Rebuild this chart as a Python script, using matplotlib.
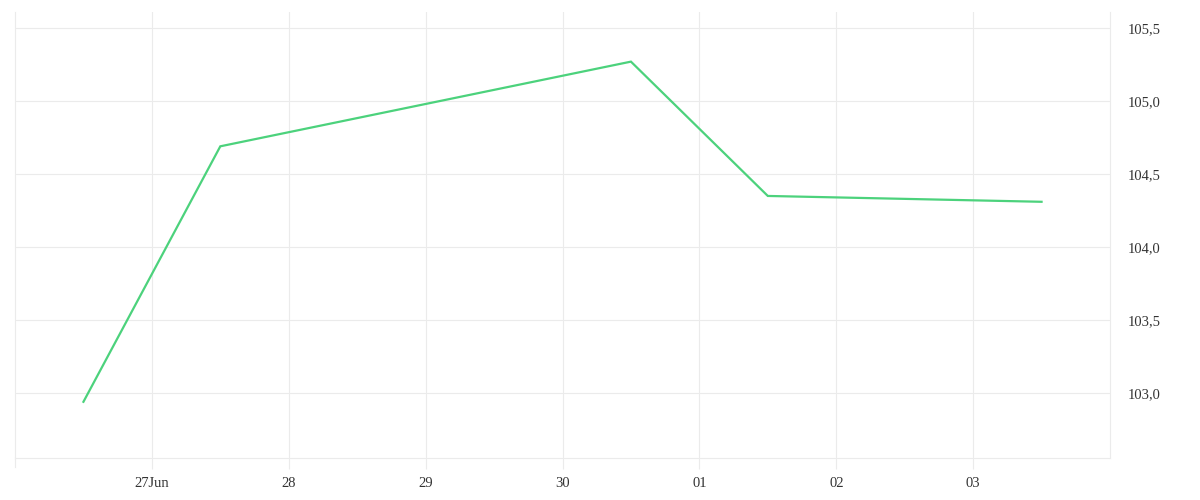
import numpy as np
import pandas as pd
import matplotlib
matplotlib.use("Agg")
import matplotlib.pyplot as plt
import matplotlib.dates as mdates
from matplotlib.ticker import FuncFormatter

# data
dates = pd.to_datetime(["2023-06-26 12:00", "2023-06-27 12:00", "2023-06-30 12:00",
                        "2023-07-01 12:00", "2023-07-03 12:00"])
values = [102.94, 104.69, 105.27, 104.35, 104.31]

tick_dates = pd.date_range("2023-06-27", "2023-07-03", freq="D")
tick_labels = ["27Jun", "28", "29", "30", "01", "02", "03"]
y_ticks = [103.0, 103.5, 104.0, 104.5, 105.0, 105.5]

plt.rcParams["font.family"] = ["Liberation Serif", "DejaVu Serif"]

fig = plt.figure(figsize=(12, 5), dpi=100)
ax = fig.add_axes([0.0125, 0.084, 0.9125, 0.892])

ax.plot(dates, values, color="#4cd27c", lw=1.6, solid_joinstyle="miter")

ax.set_xlim(pd.Timestamp("2023-06-26"), pd.Timestamp("2023-07-04"))
ax.set_ylim(102.555, 105.61)

grid_c = "#ebebeb"
ax.set_xticks(tick_dates)
ax.set_xticklabels(tick_labels)
ax.set_yticks(y_ticks)
ax.yaxis.set_major_formatter(FuncFormatter(lambda v, p: f"{v:.1f}".replace(".", ",")))
ax.yaxis.tick_right()
ax.grid(True, color=grid_c, lw=0.8)
ax.tick_params(axis="x", length=8, width=0.8, color=grid_c, labelsize=10.5,
               labelcolor="#333333", pad=6)
ax.tick_params(axis="y", length=0, labelsize=10.5, labelcolor="#333333", pad=13)

for s in ["top"]:
    ax.spines[s].set_visible(False)
for s in ["left", "right", "bottom"]:
    ax.spines[s].set_color(grid_c)
    ax.spines[s].set_linewidth(0.8)

# left edge tick extension like the reference
ax.plot([0, 0], [0, -0.02], transform=ax.transAxes, color=grid_c, lw=0.8, clip_on=False)

fig.savefig("out.png", dpi=100)
plt.close(fig)
